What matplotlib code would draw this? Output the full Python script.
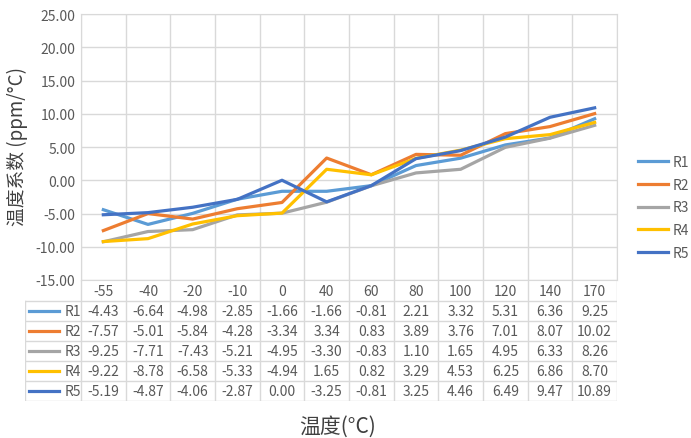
import matplotlib.pyplot as plt
import numpy as np

plt.rcParams['font.family'] = ['Noto Sans CJK SC', 'DejaVu Sans']

temps = ['-55', '-40', '-20', '-10', '0', '40', '60', '80', '100', '120', '140', '170']
names = ['R1', 'R2', 'R3', 'R4', 'R5']
r1 = [-4.43, -6.64, -4.98, -2.85, -1.66, -1.66, -0.81, 2.21, 3.32, 5.31, 6.36, 9.25]
r2 = [-7.57, -5.01, -5.84, -4.28, -3.34, 3.34, 0.83, 3.89, 3.76, 7.01, 8.07, 10.02]
r3 = [-9.25, -7.71, -7.43, -5.21, -4.95, -3.30, -0.83, 1.10, 1.65, 4.95, 6.33, 8.26]
r4 = [-9.22, -8.78, -6.58, -5.33, -4.94, 1.65, 0.82, 3.29, 4.53, 6.25, 6.86, 8.70]
r5 = [-5.19, -4.87, -4.06, -2.87, 0.00, -3.25, -0.81, 3.25, 4.46, 6.49, 9.47, 10.89]
series = [r1, r2, r3, r4, r5]
colors = ['#5B9BD5', '#ED7D31', '#A5A5A5', '#FFC000', '#4472C4']
yticks = [-15, -10, -5, 0, 5, 10, 15, 20, 25]

W, H = 691, 439
grid_c = '#d9d9d9'
text_c = '#595959'
fs = 10


def box(x0, y0, x1, y1):
    # pixel box (top-left origin) -> figure rect
    return [x0 / W, 1 - y1 / H, (x1 - x0) / W, (y1 - y0) / H]


fig = plt.figure(figsize=(W / 100, H / 100), dpi=100)

# main plot
ax = fig.add_axes(box(81, 15, 617, 281))
x = np.arange(len(temps))
for name, vals, c in zip(names, series, colors):
    ax.plot(x, vals, color=c, lw=2.3, label=name)
ax.set_xlim(-0.5, len(temps) - 0.5)
ax.set_ylim(-15, 25)
ax.set_yticks(yticks)
ax.set_yticklabels([f'{v:.2f}' for v in yticks])
ax.set_xticks(np.arange(-0.5, len(temps)))
ax.tick_params(axis='x', length=0, labelbottom=False)
ax.tick_params(axis='y', length=0, colors=text_c, labelsize=fs, pad=4)
ax.grid(color=grid_c, lw=1)
ax.set_axisbelow(True)
for s in ax.spines.values():
    s.set_color(grid_c)

ax.legend(loc='center left', bbox_to_anchor=(638 / W, 1 - 208.5 / H),
          bbox_transform=fig.transFigure, frameon=False, fontsize=fs,
          borderpad=0, borderaxespad=0,
          handlelength=2.15, handletextpad=0.35, labelspacing=0.62,
          labelcolor=text_c)

# data table below the plot
unit = 536 / len(temps)
def xd(p):
    return -0.5 + (p - 81) / unit

tax = fig.add_axes(box(25, 281, 617, 402))
tax.set_xlim(xd(25), len(temps) - 0.5)
tax.set_ylim(121, 0)
tax.axis('off')

row_edges = [21 + 20 * j for j in range(len(names) + 1)]
for y in row_edges:
    tax.plot([xd(25), len(temps) - 0.5], [y, y], color=grid_c, lw=1)
tax.plot([xd(25), xd(25)], [21, 121], color=grid_c, lw=1)
for b in np.arange(-0.5, len(temps)):
    tax.plot([b, b], [0, 121], color=grid_c, lw=1)

for i, t in enumerate(temps):
    tax.text(i, 11, t, ha='center', va='center', fontsize=fs, color=text_c)

for j, (name, vals, c) in enumerate(zip(names, series, colors)):
    yc = 21 + 20 * j + 10
    tax.plot([xd(29), xd(59)], [yc, yc], color=c, lw=2.3)
    tax.text(xd(81), yc, name, ha='right', va='center', fontsize=fs, color=text_c)
    for i, v in enumerate(vals):
        tax.text(i, yc, f'{v:.2f}', ha='center', va='center', fontsize=fs, color=text_c)

fig.text(338 / W, 1 - 427 / H, '温度(°C)', ha='center', va='center', fontsize=15, color='#404040')
fig.text(17 / W, 1 - 147 / H, '温度系数 (ppm/°C)', ha='center', va='center',
         rotation=90, fontsize=13.5, color='#404040')

fig.savefig('out.png', dpi=100)
